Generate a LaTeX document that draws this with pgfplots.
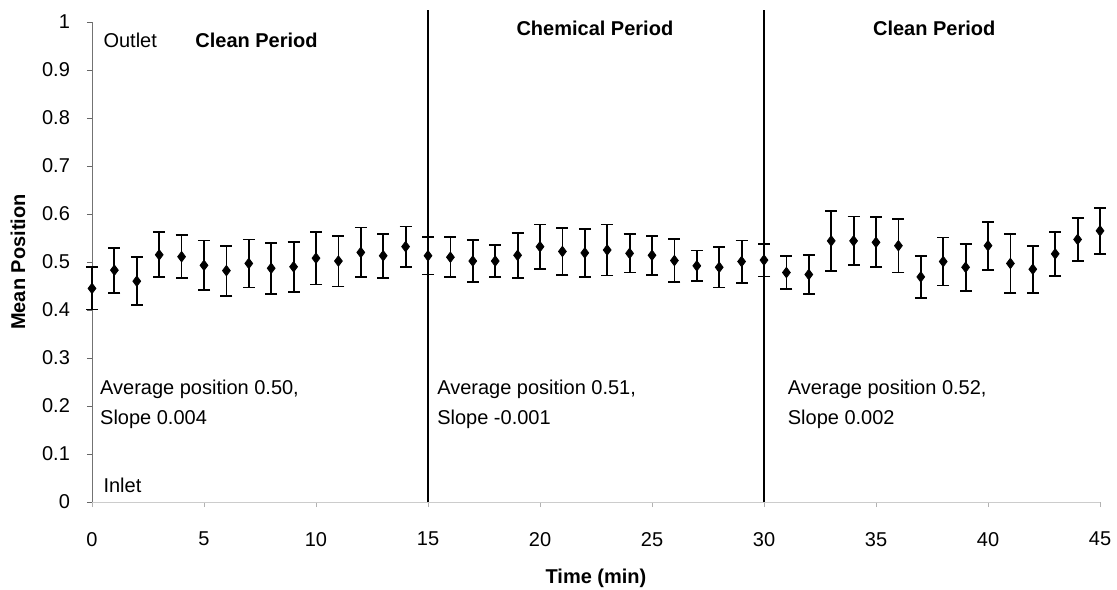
\documentclass[border=0pt]{standalone}
\usepackage{pgfplots}
\pgfplotsset{compat=1.18}
\usepackage{pgfplotstable}
\usepackage{fontspec}
\setmainfont{Liberation Sans}

% minute, mean position, standard error
\pgfplotstableread{
x y e
0 0.445 0.044
1 0.483 0.047
2 0.460 0.050
3 0.515 0.047
4 0.511 0.045
5 0.493 0.052
6 0.482 0.052
7 0.497 0.050
8 0.487 0.053
9 0.490 0.052
10 0.508 0.055
11 0.502 0.053
12 0.520 0.052
13 0.513 0.046
14 0.532 0.042
15 0.513 0.039
16 0.510 0.042
17 0.502 0.044
18 0.502 0.034
19 0.514 0.047
20 0.532 0.046
21 0.522 0.049
22 0.519 0.050
23 0.525 0.053
24 0.518 0.040
25 0.514 0.041
26 0.503 0.045
27 0.492 0.032
28 0.489 0.042
29 0.501 0.044
30 0.504 0.034
31 0.478 0.034
32 0.474 0.041
33 0.544 0.062
34 0.544 0.051
35 0.541 0.052
36 0.534 0.056
37 0.469 0.044
38 0.501 0.050
39 0.489 0.049
40 0.534 0.050
41 0.497 0.062
42 0.485 0.049
43 0.517 0.046
44 0.547 0.045
45 0.565 0.048
}\meanpos

\begin{document}
\begin{tikzpicture}[font=\fontsize{10}{12}\selectfont]
\useasboundingbox (-46pt,-43.5pt) rectangle (512.5pt,251pt);
\begin{axis}[
  at={(0pt,0pt)}, anchor=south west,
  scale only axis,
  width=504pt, height=240pt,
  xmin=0, xmax=45, ymin=0, ymax=1,
  xtick={0,5,...,45},
  ytick={0,0.1,...,1.0},
  yticklabels={0,0.1,0.2,0.3,0.4,0.5,0.6,0.7,0.8,0.9,1},
  axis x line*=bottom, axis y line*=left,
  x axis line style={black!20, line width=0.4pt, -},
  y axis line style={black!55, line width=0.4pt, -},
  tick align=outside,
  major tick length=2.5pt,
  xtick style={black!30},
  ytick style={black!60},
  /pgf/number format/assume math mode=true,
  yticklabel style={xshift=-5pt},
  xticklabel style={yshift=-9pt},
  xlabel={Time (min)}, ylabel={Mean Position},
  xlabel style={font=\fontsize{10}{12}\selectfont\bfseries, at={(axis description cs:0.5,-0.158)}, anchor=center},
  ylabel style={font=\fontsize{10}{12}\selectfont\bfseries, at={(axis description cs:-0.0734,0.5)}, anchor=center},
  clip=false,
]
% period boundaries
\draw[black, line width=0.8pt] (axis cs:15,0) -- (axis cs:15,1.025);
\draw[black, line width=0.8pt] (axis cs:30,0) -- (axis cs:30,1.025);

\addplot[only marks, mark=diamond*, mark size=2.6pt, black,
  error bars/.cd, y dir=both, y explicit,
  error mark=|,
  error bar style={black, line width=0.9pt},
  error mark options={black, line width=0.9pt, mark size=3pt}]
  table[x=x, y=y, y error=e] {\meanpos};

\node[anchor=west] at (axis cs:0.2,0.9625) {Outlet};
\node[anchor=west, font=\fontsize{10}{12}\selectfont\bfseries] at (axis cs:4.3,0.9625) {Clean Period};
\node[font=\fontsize{10}{12}\selectfont\bfseries] at (axis cs:22.45,0.9875) {Chemical Period};
\node[font=\fontsize{10}{12}\selectfont\bfseries] at (axis cs:37.6,0.9875) {Clean Period};

\node[anchor=west, align=left] at (axis cs:0.05,0.235) {Average position 0.50,};
\node[anchor=west, align=left] at (axis cs:0.05,0.173) {Slope 0.004};
\node[anchor=west, align=left] at (axis cs:15.1,0.235) {Average position 0.51,};
\node[anchor=west, align=left] at (axis cs:15.1,0.173) {Slope -0.001};
\node[anchor=west, align=left] at (axis cs:30.75,0.235) {Average position 0.52,};
\node[anchor=west, align=left] at (axis cs:30.75,0.173) {Slope 0.002};
\node[anchor=west] at (axis cs:0.2,0.035) {Inlet};
\end{axis}
\end{tikzpicture}
\end{document}
